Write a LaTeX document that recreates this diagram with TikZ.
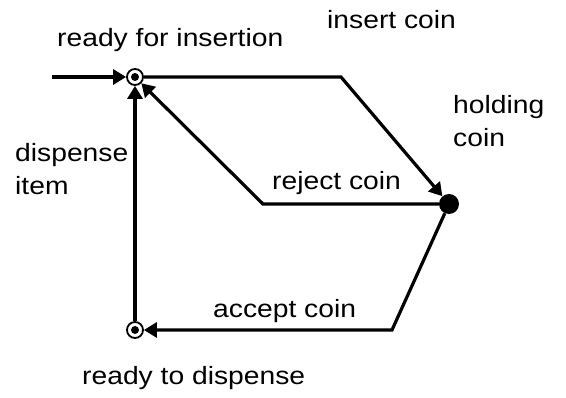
\documentclass[tikz,border=0pt]{standalone}
\usepackage{fontspec}
\setmainfont[FakeStretch=1.13]{Liberation Sans}
\usetikzlibrary{arrows.meta}
\begin{document}
\begin{tikzpicture}[x=1pt,y=-1pt,
  conn/.style={line width=3.2pt,line join=miter,-{Triangle[length=13pt,width=15pt]}},
  state/.style={circle,draw,line width=1.8pt,fill=white,minimum size=16pt,inner sep=0pt},
  busy/.style={circle,fill=black,minimum size=20pt,inner sep=0pt},
  lbl/.style={anchor=base west,inner sep=0pt,align=left,font=\fontsize{25}{33}\selectfont}]
\useasboundingbox (0,0) rectangle (566,398);
% states
\node[state] (ri) at (135,77) {};
\node[state] (rd) at (135,330) {};
\node[busy] (hc) at (449,204) {};
\fill (ri.center) circle (4pt);
\fill (rd.center) circle (4pt);
% bends
\coordinate (start) at (52,77);
\coordinate (ic) at (341,77);
\coordinate (rc) at (263,204);
\coordinate (ac) at (392,330);
% connectors
\draw[conn] (start) -- (ri);
\draw[conn] (ri) -- (ic) -- (hc);
\draw[conn] (hc) -- (rc) -- (ri);
\draw[conn] (hc) -- (ac) -- (rd);
\draw[conn] (rd) -- (ri);
% labels
\node[lbl] (l1) at (57,47) {ready for insertion};
\node[lbl] (l2) at (327,29) {insert coin};
\node[lbl] (l3) at (453,147) {holding\\coin};
\node[lbl] (l4) at (272,190) {reject coin};
\node[lbl] (l5) at (15,195) {dispense\\item};
\node[lbl] (l6) at (213,318) {accept coin};
\node[lbl] (l7) at (82,385) {ready to dispense};
\end{tikzpicture}
\end{document}
